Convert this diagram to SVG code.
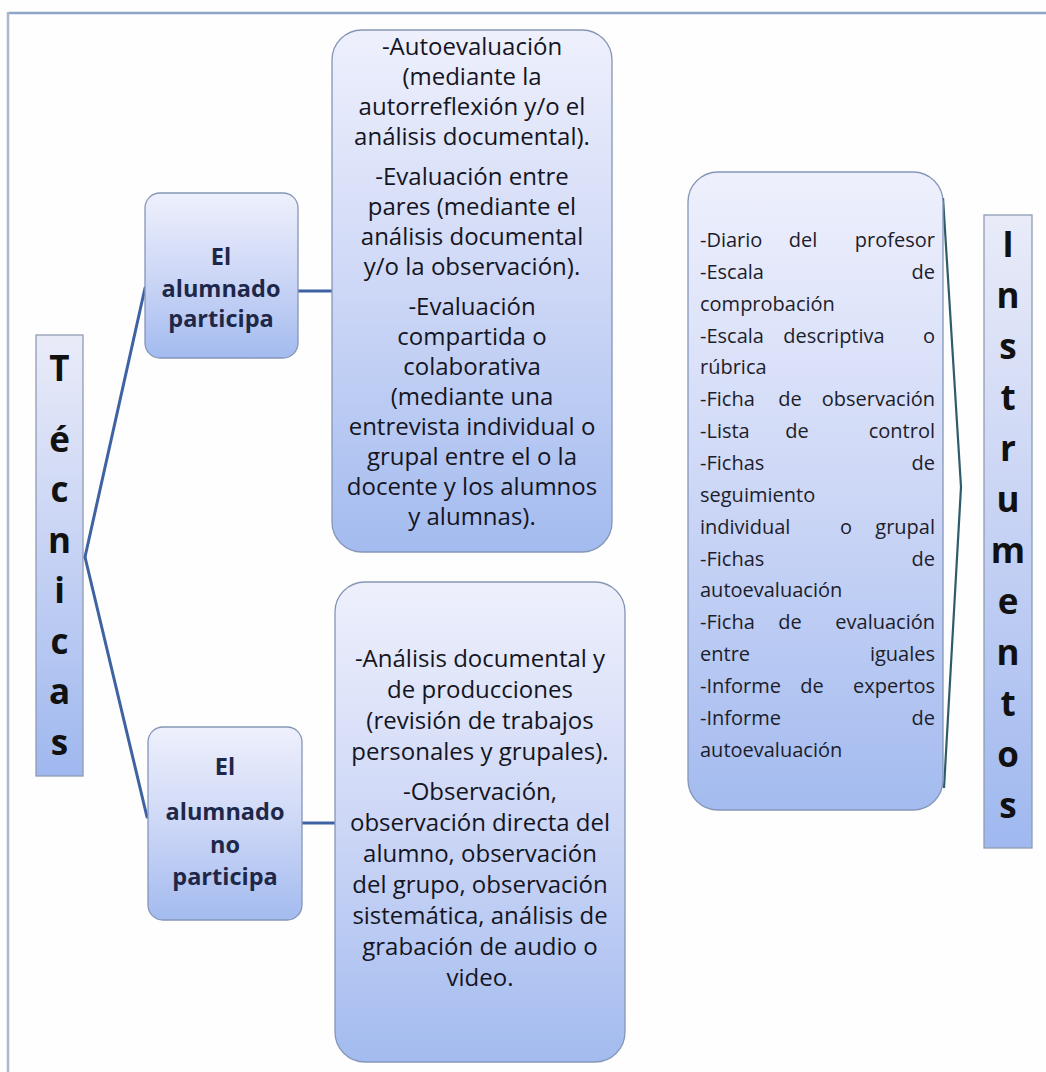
<svg xmlns="http://www.w3.org/2000/svg" width="1046" height="1072" viewBox="0 0 1046 1072">
<defs>
<linearGradient id="gBox" x1="0" y1="0" x2="0" y2="1">
<stop offset="0" stop-color="#eef0fc"/>
<stop offset="0.5" stop-color="#cdd7f6"/>
<stop offset="1" stop-color="#a3bbef"/>
</linearGradient>
<linearGradient id="gCol" x1="0" y1="0" x2="0" y2="1">
<stop offset="0" stop-color="#e9ebf8"/>
<stop offset="0.5" stop-color="#c6d2f4"/>
<stop offset="1" stop-color="#9fb8ef"/>
</linearGradient>
<style>
.box{fill:url(#gBox);stroke:#8596b8;stroke-width:1.3}
.col{fill:url(#gCol);stroke:#8f9cb3;stroke-width:1.3}
.t{font-family:"Open Sans","Liberation Sans",sans-serif;font-size:24px;fill:#15151f;text-anchor:middle}
.b{font-family:"Open Sans","Liberation Sans",sans-serif;font-size:23.5px;font-weight:bold;fill:#1e2748;text-anchor:middle}
.big{font-family:"Open Sans","Liberation Sans",sans-serif;font-size:35px;font-weight:bold;fill:#111;text-anchor:middle}
.l{font-family:"Open Sans","Liberation Sans",sans-serif;font-size:20px;fill:#1d1d2b}
.e{text-anchor:end}
.m{text-anchor:middle}
.c{fill:none;stroke:#3f62a3;stroke-width:3;stroke-linecap:round}
.c2{fill:none;stroke:#2f5b6a;stroke-width:2.2;stroke-linejoin:miter}
</style>
</defs>
<rect width="1046" height="1072" fill="#fefefe"/>
<g id="frame">
<line x1="8" y1="13" x2="1046" y2="13" stroke="#8da6c6" stroke-width="2.5"/>
<line x1="8" y1="12" x2="8" y2="1072" stroke="#a7b8cf" stroke-width="2.5"/>
</g>
<g id="connectors">
<path class="c" d="M85 557 L145 288"/>
<path class="c" d="M85 557 L147 817"/>
<path class="c" d="M298 291 L332 291"/>
<path class="c" d="M302 823 L335 823"/>
<path class="c2" d="M943 198 L961 487 L944 788"/>
</g>
<g id="tecnicas">
<rect class="col" x="36" y="335" width="47" height="441"/>
<text class="big" x="59.5" y="381">T</text>
<text class="big" x="59.5" y="452">é</text>
<text class="big" x="59.5" y="502">c</text>
<text class="big" x="59.5" y="553">n</text>
<text class="big" x="59.5" y="603">i</text>
<text class="big" x="59.5" y="654">c</text>
<text class="big" x="59.5" y="704">a</text>
<text class="big" x="59.5" y="755">s</text>
</g>
<g id="participa">
<rect class="box" x="145" y="193" width="153" height="165" rx="15"/>
<text class="b" x="221" y="265">El</text>
<text class="b" x="221" y="297">alumnado</text>
<text class="b" x="221" y="327">participa</text>
</g>
<g id="no-participa">
<rect class="box" x="148" y="727" width="154" height="193" rx="15"/>
<text class="b" x="225" y="775">El</text>
<text class="b" x="225" y="820">alumnado</text>
<text class="b" x="225" y="853">no</text>
<text class="b" x="225" y="885">participa</text>
</g>
<g id="tecnicas-participa">
<rect class="box" x="332" y="30" width="280" height="522" rx="30"/>
<text class="t" x="472" y="55">-Autoevaluación</text>
<text class="t" x="472" y="85">(mediante la</text>
<text class="t" x="472" y="115">autorreflexión y/o el</text>
<text class="t" x="472" y="145">análisis documental).</text>
<text class="t" x="472" y="185">-Evaluación entre</text>
<text class="t" x="472" y="215">pares (mediante el</text>
<text class="t" x="472" y="245">análisis documental</text>
<text class="t" x="472" y="275">y/o la observación).</text>
<text class="t" x="472" y="315">-Evaluación</text>
<text class="t" x="472" y="345">compartida o</text>
<text class="t" x="472" y="375">colaborativa</text>
<text class="t" x="472" y="405">(mediante una</text>
<text class="t" x="472" y="435">entrevista individual o</text>
<text class="t" x="472" y="465">grupal entre el o la</text>
<text class="t" x="472" y="495">docente y los alumnos</text>
<text class="t" x="472" y="525">y alumnas).</text>
</g>
<g id="tecnicas-no-participa">
<rect class="box" x="335" y="582" width="290" height="480" rx="30"/>
<text class="t" x="480" y="667">-Análisis documental y</text>
<text class="t" x="480" y="698">de producciones</text>
<text class="t" x="480" y="729">(revisión de trabajos</text>
<text class="t" x="480" y="760">personales y grupales).</text>
<text class="t" x="480" y="800">-Observación,</text>
<text class="t" x="480" y="831">observación directa del</text>
<text class="t" x="480" y="862">alumno, observación</text>
<text class="t" x="480" y="893">del grupo, observación</text>
<text class="t" x="480" y="924">sistemática, análisis de</text>
<text class="t" x="480" y="955">grabación de audio o</text>
<text class="t" x="480" y="986">video.</text>
</g>
<g id="lista-instrumentos">
<rect class="box" x="688" y="172" width="255" height="638" rx="30"/>
<text class="l" x="700" y="247">-Diario</text><text class="l m" x="803" y="247">del</text><text class="l e" x="935" y="247">profesor</text>
<text class="l" x="700" y="279">-Escala</text><text class="l e" x="935" y="279">de</text>
<text class="l" x="700" y="311">comprobación</text>
<text class="l" x="700" y="343">-Escala</text><text class="l m" x="834" y="343">descriptiva</text><text class="l e" x="935" y="343">o</text>
<text class="l" x="700" y="374">rúbrica</text>
<text class="l" x="700" y="406">-Ficha</text><text class="l m" x="790" y="406">de</text><text class="l e" x="935" y="406">observación</text>
<text class="l" x="700" y="438">-Lista</text><text class="l m" x="797" y="438">de</text><text class="l e" x="935" y="438">control</text>
<text class="l" x="700" y="470">-Fichas</text><text class="l e" x="935" y="470">de</text>
<text class="l" x="700" y="502">seguimiento</text>
<text class="l" x="700" y="534">individual</text><text class="l m" x="846" y="534">o</text><text class="l e" x="935" y="534">grupal</text>
<text class="l" x="700" y="566">-Fichas</text><text class="l e" x="935" y="566">de</text>
<text class="l" x="700" y="597">autoevaluación</text>
<text class="l" x="700" y="629">-Ficha</text><text class="l m" x="790" y="629">de</text><text class="l e" x="935" y="629">evaluación</text>
<text class="l" x="700" y="661">entre</text><text class="l e" x="935" y="661">iguales</text>
<text class="l" x="700" y="693">-Informe</text><text class="l m" x="812" y="693">de</text><text class="l e" x="935" y="693">expertos</text>
<text class="l" x="700" y="725">-Informe</text><text class="l e" x="935" y="725">de</text>
<text class="l" x="700" y="757">autoevaluación</text>
</g>
<g id="instrumentos">
<rect class="col" x="984" y="215" width="48" height="633"/>
<text class="big" x="1008" y="257">I</text>
<text class="big" x="1008" y="308">n</text>
<text class="big" x="1008" y="359">s</text>
<text class="big" x="1008" y="410">t</text>
<text class="big" x="1008" y="461">r</text>
<text class="big" x="1008" y="512">u</text>
<text class="big" x="1008" y="563">m</text>
<text class="big" x="1008" y="614">e</text>
<text class="big" x="1008" y="665">n</text>
<text class="big" x="1008" y="716">t</text>
<text class="big" x="1008" y="767">o</text>
<text class="big" x="1008" y="818">s</text>
</g>
</svg>
